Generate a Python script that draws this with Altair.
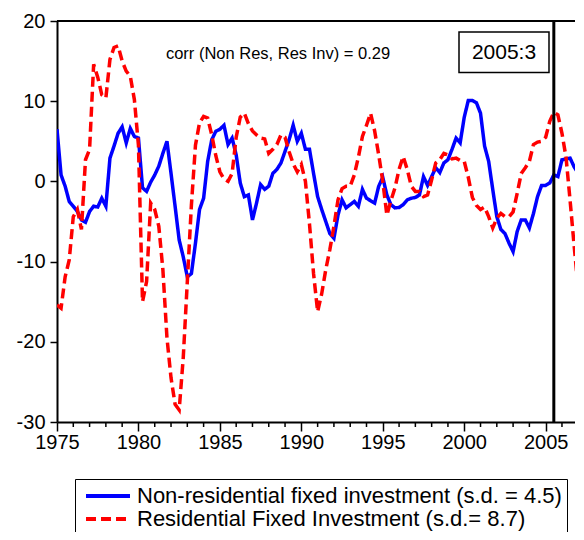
import altair as alt
import pandas as pd

# ---------------- data (quarterly, 1975Q1 .. 2007Q1) ----------------
start_year = 1975
nonres = [
    6.5, 0.8, -0.6, -2.5,      # 1975
    -3.1, -3.75, -4.8, -5.1,   # 1976
    -3.75, -3.1, -3.2, -2.1,   # 1977
    -3.1, 2.9, 4.4, 6.0,       # 1978
    6.8, 4.8, 6.6, 5.6,        # 1979
    5.4, -0.8, -1.25, -0.1,    # 1980
    0.8, 1.9, 3.5, 5.0,        # 1981
    1.0, -3.1, -7.3, -9.4,     # 1982
    -11.9, -11.5, -7.7, -3.5,  # 1983
    -2.1, 2.5, 5.2, 6.25,      # 1984
    6.5, 7.0, 4.6, 5.4,        # 1985
    3.3, -0.2, -1.9, -1.7,     # 1986
    -4.8, -2.7, -0.4, -1.0,    # 1987
    -0.6, 1.0, 1.5, 2.3,       # 1988
    3.75, 5.2, 7.0, 5.0,       # 1989
    6.0, 4.0, 4.0, 1.0,        # 1990
    -1.9, -3.5, -5.0, -6.5,    # 1991
    -7.1, -4.2, -2.3, -3.3,    # 1992
    -2.9, -2.5, -3.1, -1.0,    # 1993
    -2.1, -2.4, -2.7, -0.6,    # 1994
    0.5, -1.7, -2.9, -3.3,     # 1995
    -3.25, -2.9, -2.3, -2.1,   # 1996
    -2.0, -1.7, 0.6, -0.5,     # 1997
    0.6, 1.7, 1.1, 2.3,        # 1998
    2.7, 4.0, 5.4, 4.8,        # 1999
    8.0, 10.1, 10.1, 9.8,      # 2000
    8.5, 4.4, 2.5, -1.0,       # 2001
    -4.4, -6.0, -6.5, -7.7,    # 2002
    -8.75, -6.25, -4.8, -4.8,  # 2003
    -5.8, -4.0, -1.9, -0.5,    # 2004
    -0.5, -0.2, 0.8, 0.6,      # 2005
    2.7, 2.8, 2.9, 1.8,        # 2006
    1.0,                       # 2007
]
res = [
    -15.4, -15.8, -11.9, -9.8,   # 1975
    -4.4, -3.5, -6.0, 2.7,       # 1976
    4.0, 14.6, 13.0, 10.8,       # 1977
    10.4, 15.2, 16.7, 16.9,      # 1978
    15.0, 13.75, 13.1, 10.2,     # 1979
    4.5, -15.0, -12.5, -2.7,     # 1980
    -3.5, -5.6, -11.0, -19.5,    # 1981
    -24.5, -27.8, -28.5, -22.0,  # 1982
    -12.5, -3.0, 4.5, 7.3,       # 1983
    8.1, 7.9, 5.8, 3.2,          # 1984
    1.2, 0.3, 0.0, 1.0,          # 1985
    5.5, 8.0, 8.5, 7.2,          # 1986
    6.3, 5.8, 5.4, 5.3,          # 1987
    3.5, 4.0, 4.6, 5.8,          # 1988
    5.5, 3.7, 2.2, 1.2,          # 1989
    2.1, 0.0, -5.3, -11.5,       # 1990
    -16.25, -14.0, -11.0, -8.5,  # 1991
    -5.6, -2.3, -0.9, -0.6,      # 1992
    -0.6, 0.8, 3.0, 5.6,         # 1993
    7.0, 8.5, 6.3, 3.3,          # 1994
    0.0, -4.2, -2.4, -0.8,       # 1995
    1.5, 3.1, 1.5, -0.6,         # 1996
    -1.25, -1.25, -1.9, -1.7,    # 1997
    0.2, 2.3, 2.7, 3.5,          # 1998
    3.3, 2.8, 2.9, 2.6,          # 1999
    2.5, 0.5, -2.0, -3.0,        # 2000
    -3.5, -3.2, -4.4, -5.8,      # 2001
    -4.6, -4.0, -4.4, -4.4,      # 2002
    -3.8, -1.5, 1.0, 1.7,        # 2003
    2.5, 4.6, 4.9, 5.0,          # 2004
    5.5, 7.5, 8.6, 8.3,          # 2005
    6.0, 3.0, -2.4, -8.1,        # 2006
    -13.5,                       # 2007
]
series_names = [
    "Non-residential fixed investment (s.d. = 4.5)",
    "Residential Fixed Investment (s.d.= 8.7)",
]
series_colors = ["#0000ff", "#ff0000"]
major_years = [1975, 1980, 1985, 1990, 1995, 2000, 2005]
minor_years = [y for y in range(1976, 2007) if y % 5 != 0]
y_ticks = [-30, -20, -10, 0, 10, 20]
marker_time = [2005.5]
marker_label = "2005:3"
corr_label = "corr (Non Res, Res Inv) = 0.29"

# ---------------- tables ----------------
rows = []
for name, vals in zip(series_names, [nonres, res]):
    for i, v in enumerate(vals):
        rows.append({"t": start_year + i / 4.0, "v": v, "series": name})
df = pd.DataFrame(rows)
df_minor = pd.DataFrame({"yr": minor_years})
df_marker = pd.DataFrame({"t": marker_time, "label": [marker_label]})
df_corr = pd.DataFrame({"label": [corr_label]})

W, H = 518, 401
FONT = "Liberation Sans"

x_scale = alt.Scale(domain=[1975, 2006.8], nice=False, zero=False)
y_scale = alt.Scale(domain=[-30, 20], nice=False, zero=False)
x_axis = alt.Axis(
    title=None, values=major_years, labelExpr="datum.value + ''", grid=False,
    tickSize=9, tickWidth=1.5, tickColor="black", domainColor="black",
    domainWidth=2, labelFont=FONT, labelFontSize=20, labelColor="black",
    labelPadding=1, labelFlush=False, labelOverlap=False,
)
y_axis = alt.Axis(
    title=None, values=y_ticks, labelExpr="datum.value + ''", grid=False,
    tickSize=7, tickWidth=1.5, tickColor="black", domainColor="black",
    domainWidth=2, labelFont=FONT, labelFontSize=20, labelColor="black",
    labelPadding=5, labelFlush=False, labelOverlap=False,
)

legend = alt.Legend(
    title=None, orient="none", legendX=18, legendY=458, direction="vertical",
    symbolType="M-0.6,0H3.8", symbolSize=400, symbolStrokeWidth=4,
    labelFont=FONT, labelFontSize=22, labelColor="black", labelLimit=0,
    labelOffset=33, padding=5, rowPadding=0, strokeColor="black",
    fillColor="white",
)

lines = alt.Chart(df).mark_line(strokeWidth=3.5, clip=True).encode(
    x=alt.X("t:Q", scale=x_scale, axis=x_axis),
    y=alt.Y("v:Q", scale=y_scale, axis=y_axis),
    color=alt.Color("series:N", sort=series_names,
                    scale=alt.Scale(domain=series_names, range=series_colors),
                    legend=legend),
    strokeDash=alt.StrokeDash("series:N", sort=series_names,
                              scale=alt.Scale(domain=series_names, range=[[1, 0], [10, 5]]),
                              legend=legend),
    detail="series:N",
)

minor = alt.Chart(df_minor).mark_rule(color="black", strokeWidth=1.5).encode(
    x=alt.X("yr:Q", scale=x_scale, axis=x_axis),
    y=alt.value(H),
    y2=alt.value(H + 5),
)

marker = alt.Chart(df_marker).mark_rule(color="black", strokeWidth=3).encode(
    x=alt.X("t:Q", scale=x_scale, axis=x_axis),
    y=alt.value(0),
    y2=alt.value(H),
)

top_border = alt.Chart(df_corr).mark_rule(color="black", strokeWidth=2).encode(
    x=alt.value(0), x2=alt.value(W), y=alt.value(0),
)

corr = alt.Chart(df_corr).mark_text(
    font=FONT, fontSize=16.5, color="black", align="center", baseline="middle"
).encode(x=alt.value(221), y=alt.value(33), text="label:N")

box = alt.Chart(df_marker).mark_rect(
    fill="white", stroke="black", strokeWidth=1.5
).encode(x=alt.value(402), x2=alt.value(492), y=alt.value(11), y2=alt.value(51.5))

box_text = alt.Chart(df_marker).mark_text(
    font=FONT, fontSize=21, color="black", align="center", baseline="middle"
).encode(x=alt.value(447), y=alt.value(32), text="label:N")

chart = alt.layer(lines, minor, marker, top_border, corr, box, box_text).properties(
    width=W, height=H,
    padding={"left": 49, "top": 13, "right": 0, "bottom": 110},
    autosize=alt.AutoSizeParams(type="none"),
    background="white",
).configure_view(stroke=None)

chart.save("out.html", embed_options={"renderer": "svg", "actions": False})
